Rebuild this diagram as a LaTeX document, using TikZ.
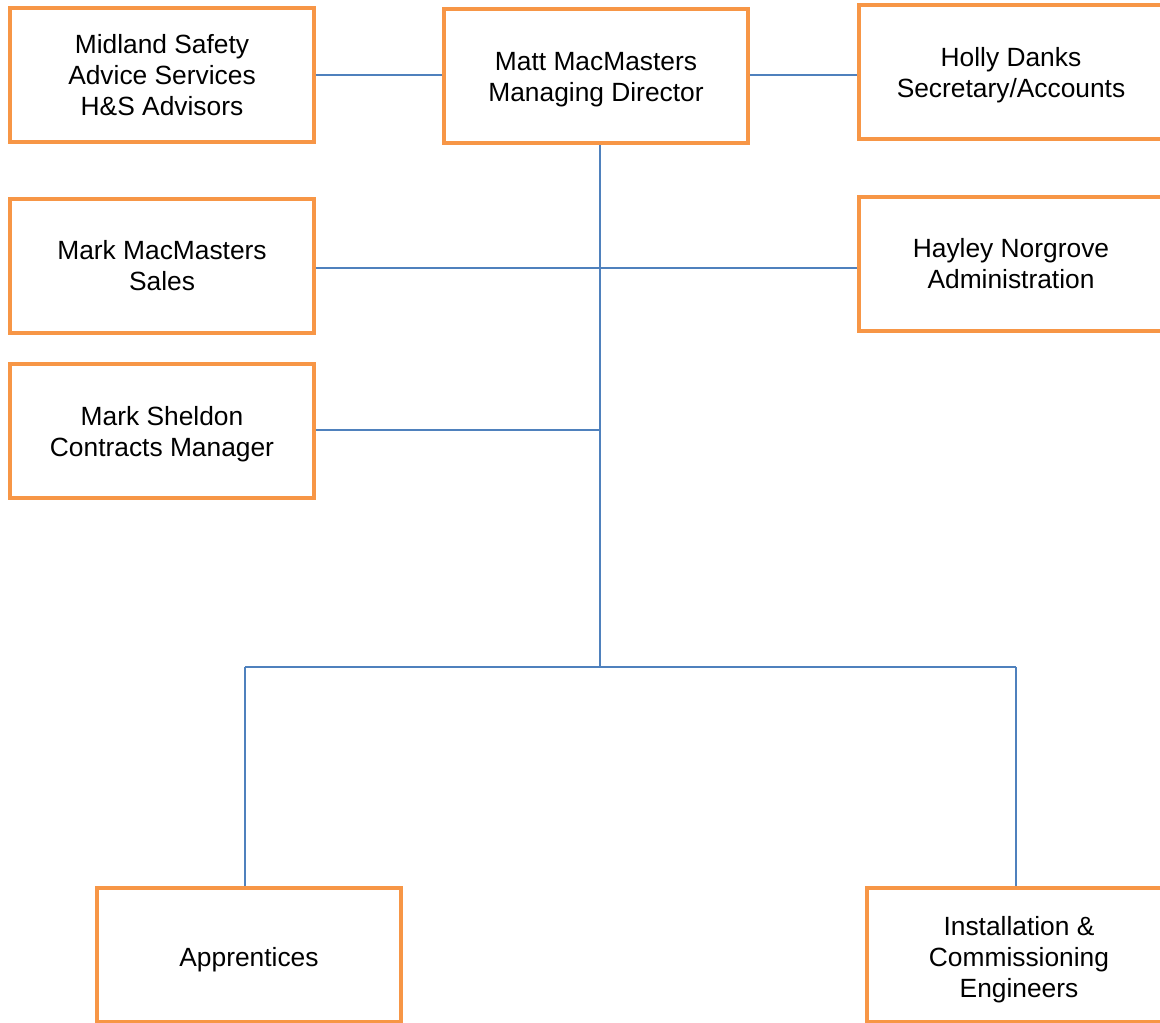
\documentclass[tikz,border=0pt]{standalone}
\usepackage{fontspec}
\setmainfont{Liberation Sans}
\usepackage{xcolor}
\usepackage{tikz}
\usetikzlibrary{positioning, calc}

\definecolor{boxorange}{HTML}{F79646}
\definecolor{lineblue}{HTML}{4F81BD}

\begin{document}
\begin{tikzpicture}[
    x=0.02cm, y=-0.02cm,
    person/.style={rectangle, draw=boxorange, line width=2.3pt, fill=white, minimum width=6.08cm, minimum height=2.68cm, align=center, inner sep=0pt, font=\fontsize{15}{17.6}\selectfont},
    link/.style={draw=lineblue, line width=0.9pt}
]
    \useasboundingbox (0,0) rectangle (1160,1023);

    % Top row
    \node[person] (midland) at (162,75) {Midland Safety\\Advice Services\\H\&S Advisors};
    \node[person] (matt) at (596,76) {\rule{0pt}{14.5pt}Matt MacMasters\\Managing Director};
    \node[person] (holly) at (1011,72) {\rule{0pt}{14.5pt}Holly Danks\\Secretary/Accounts};

    % Middle rows
    \node[person] (marksales) at (162,266) {Mark MacMasters\\Sales};
    \node[person] (hayley) at (1011,264) {Hayley Norgrove\\Administration};
    \node[person] (sheldon) at (162,431) {\rule{0pt}{14.5pt}Mark Sheldon\\Contracts Manager};

    % Bottom row
    \node[person] (apprentices) at (249,955) {\rule{0pt}{16.5pt}Apprentices};
    \node[person] (install) at (1019,955) {\rule{0pt}{16.5pt}Installation \&\\Commissioning\\Engineers};

    % Junctions
    \coordinate (hub) at (600,667);
    \coordinate (hubL) at (245,667);
    \coordinate (hubR) at (1016,667);

    % Connections
    \draw[link] (midland.east |- 0,75) -- (matt.west |- 0,75);
    \draw[link] (matt.east |- 0,75) -- (holly.west |- 0,75);
    \draw[link] (matt.south -| hub) -- (hub);
    \draw[link] (marksales.east |- 0,268) -- (hayley.west |- 0,268);
    \draw[link] (sheldon.east |- 0,430) -- (hub |- 0,430);
    \draw[link] (hubL) -- (hubR);
    \draw[link] (hubL) -- (apprentices.north -| hubL);
    \draw[link] (hubR) -- (install.north -| hubR);
\end{tikzpicture}
\end{document}
